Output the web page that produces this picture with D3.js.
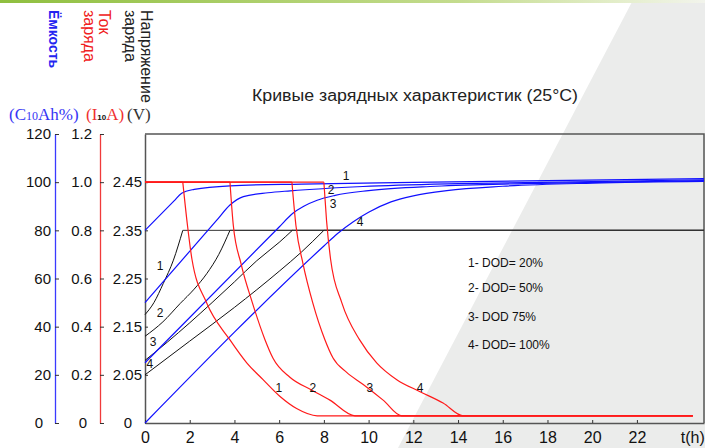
<!DOCTYPE html>
<html>
<head>
<meta charset="utf-8">
<script src="https://cdn.jsdelivr.net/npm/d3@7"></script>
<style>
  html, body { margin: 0; padding: 0; background: #fff; }
  svg { display: block; font-family: "Liberation Sans", Arial, sans-serif; }
</style>
</head>
<body>
<div id="chart"></div>
<script>
// ---- data ----
const hourTicks = [0, 2, 4, 6, 8, 10, 12, 14, 16, 18, 20, 22];
const capacityTicks = [0, 20, 40, 60, 80, 100, 120];
const currentTicks = [0, 0.2, 0.4, 0.6, 0.8, 1.0, 1.2];
const voltageTicks = [1.95, 2.05, 2.15, 2.25, 2.35, 2.45]; // 1.95 is shown as "0" (broken axis)
const dodLegend = ['1- DOD= 20%', '2- DOD= 50%', '3- DOD 75%', '4- DOD= 100%'];

// charge current (I10 A) vs t(h), after the constant 1.0 phase
const current1 = [[1.69, 1.0], [1.9, 0.82], [2.1, 0.68], [2.75, 0.5], [3.8, 0.345], [4.55, 0.25], [5.28, 0.18], [6.04, 0.11], [6.78, 0.06], [7.7, 0.03], [24.5, 0.03]];
const current2 = [[3.8, 1.0], [3.95, 0.82], [4.3, 0.66], [4.8, 0.5], [5.37, 0.345], [5.72, 0.27], [6.48, 0.19], [7.45, 0.137], [8.27, 0.095], [9.39, 0.03], [24.5, 0.03]];
const current3 = [[6.57, 1.0], [6.75, 0.82], [7.07, 0.66], [7.5, 0.5], [8.05, 0.345], [8.41, 0.27], [9.02, 0.21], [9.76, 0.16], [10.65, 0.095], [11.48, 0.03], [24.5, 0.03]];
const current4 = [[8.0, 1.0], [8.12, 0.84], [8.3, 0.68], [8.8, 0.5], [9.6, 0.345], [10.36, 0.25], [11.26, 0.18], [12.3, 0.13], [13.33, 0.083], [14.22, 0.03], [24.5, 0.03]];

// charge voltage (V) vs t(h), rising part; then flat at 2.35
const voltage1 = [[0, 2.175], [0.4, 2.2], [0.82, 2.24], [1.27, 2.288], [1.69, 2.35]];
const voltage2 = [[0, 2.13], [0.8, 2.16], [1.57, 2.198], [2.2, 2.228], [2.76, 2.26], [3.3, 2.3], [3.8, 2.35]];
const voltage3 = [[0, 2.08], [1, 2.118], [2, 2.158], [3, 2.2], [4, 2.243], [5, 2.287], [6, 2.325], [6.59, 2.35]];
const voltage4 = [[0, 2.05], [2, 2.12], [4, 2.19], [6, 2.265], [7, 2.305], [8.0, 2.35]];

// capacity (C10 Ah %) vs t(h)
const capacity1 = [[0, 80], [1.3, 92.2], [1.64, 95.4], [2.2, 97.0], [3.8, 98.5], [7, 99.2], [12, 99.9], [18, 100.6], [25, 101.5]];
const capacity2 = [[0, 50], [3.2, 84.1], [3.8, 90.5], [4.4, 94], [5.5, 95.6], [6.5, 96.4], [9.75, 98.2], [14, 99.4], [20, 100.2], [25, 101]];
const capacity3 = [[0, 25], [6.0, 81.4], [6.6, 87], [7.1, 90], [7.7, 92.5], [8.5, 94.5], [10, 96.5], [13, 98.3], [17, 99.4], [25, 100.6]];
const capacity4 = [[0, 0], [8.0, 73.5], [8.6, 78.6], [9.3, 83.5], [10, 87.5], [11, 91.8], [12, 94.3], [13.5, 96.5], [16, 98.3], [20, 99.6], [25, 100.3]];

// curve number labels, in data units [t, value]
const currentLabels = [[5.99, 0.13], [7.51, 0.13], [10.06, 0.13], [12.3, 0.13]];
const voltageLabels = [[0.67, 2.267], [0.67, 2.17], [0.36, 2.11], [0.22, 2.064]];
const capacityLabels = [[8.99, 100.9], [8.32, 95.1], [8.41, 89.3], [9.62, 81.8]];

// ---- layout ----
const width = 705, height = 448;
const plot = { left: 145, right: 704, top: 134, bottom: 423 };

const svg = d3.select('#chart').append('svg')
  .attr('width', width)
  .attr('height', height);

// background decoration
const defs = svg.append('defs');
const grad = defs.append('linearGradient').attr('id', 'topbar');
grad.append('stop').attr('offset', '0%').attr('stop-color', '#8fbf3f');
grad.append('stop').attr('offset', '65%').attr('stop-color', '#c4dc8e');
grad.append('stop').attr('offset', '88%').attr('stop-color', '#e4eecb');
grad.append('stop').attr('offset', '100%').attr('stop-color', '#f2f4ec');

svg.append('polygon')
  .attr('points', '633,0 705,0 705,448 398,448')
  .attr('fill', '#ebeceb');
svg.append('rect')
  .attr('x', 0).attr('y', 0).attr('width', width).attr('height', 3)
  .attr('fill', 'url(#topbar)');

// scales
const x = d3.scaleLinear().domain([0, 25]).range([plot.left, plot.right]);
const yCap = d3.scaleLinear().domain([0, 120]).range([plot.bottom, plot.top]);
const yCur = d3.scaleLinear().domain([0, 1.2]).range([plot.bottom, plot.top]);
const yVolt = d3.scaleLinear().domain([1.95, 2.55]).range([plot.bottom, plot.top]);

// title (the original is stretched horizontally)
svg.append('text')
  .attr('x', 252).attr('y', 101)
  .attr('font-size', 16)
  .attr('textLength', 326)
  .attr('lengthAdjust', 'spacingAndGlyphs')
  .attr('fill', '#222')
  .text('Кривые зарядных характеристик (25°C)');

// rotated axis headers
const headers = [
  { text: 'Ёмкость', x: 49, color: '#2323f0', weight: 'bold', size: 14 },
  { text: 'заряда', x: 83.5, color: '#f02020', weight: 'normal', size: 16 },
  { text: 'Ток', x: 98.5, color: '#f02020', weight: 'normal', size: 16 },
  { text: 'заряда', x: 125, color: '#222', weight: 'normal', size: 16 },
  { text: 'Напряжение', x: 141, color: '#222', weight: 'normal', size: 16 }
];
svg.append('g').selectAll('text')
  .data(headers)
  .join('text')
  .attr('transform', d => `translate(${d.x},10) rotate(90)`)
  .attr('font-size', d => d.size)
  .attr('font-weight', d => d.weight)
  .attr('fill', d => d.color)
  .text(d => d.text);

// unit labels
const serif = '"Liberation Serif", "Times New Roman", serif';
const capUnit = svg.append('text').attr('x', 9).attr('y', 120)
  .attr('font-family', serif).attr('font-size', 17).attr('fill', '#3535f5');
capUnit.append('tspan').text('(C');
capUnit.append('tspan').attr('font-size', 12).text('10');
capUnit.append('tspan').text('Ah%)');

const curUnit = svg.append('text').attr('x', 86).attr('y', 120)
  .attr('font-family', serif).attr('font-size', 17).attr('fill', '#f03030');
curUnit.append('tspan').text('(I');
curUnit.append('tspan').attr('font-size', 8).attr('font-weight', 'bold')
  .attr('font-family', '"Liberation Sans", Arial, sans-serif').attr('fill', '#111').text('10');
curUnit.append('tspan').text('A)');

svg.append('text').attr('x', 127).attr('y', 120)
  .attr('font-family', serif).attr('font-size', 17).attr('fill', '#333')
  .text('(V)');

// ---- axes ----
function styleAxis(g, domainColor, fontSize) {
  g.select('.domain').attr('stroke', domainColor).attr('stroke-width', 1.3);
  g.selectAll('.tick line').attr('stroke', '#333');
  g.selectAll('.tick text')
    .attr('font-size', fontSize)
    .attr('fill', '#111')
    .attr('font-family', '"Liberation Sans", Arial, sans-serif');
}

const capAxis = svg.append('g')
  .attr('transform', 'translate(55,0)')
  .call(d3.axisLeft(yCap).tickValues(capacityTicks).tickSizeInner(-4).tickSizeOuter(0).tickPadding(4))
  .call(g => styleAxis(g, '#3a3aff', 15));
capAxis.selectAll('.tick text').filter(d => d === 0).attr('dx', -8);

const curAxis = svg.append('g')
  .attr('transform', 'translate(100,0)')
  .call(d3.axisLeft(yCur).tickValues(currentTicks).tickSizeInner(-4).tickSizeOuter(0).tickPadding(8)
    .tickFormat(d => d === 0 ? '0' : d3.format('.1f')(d)))
  .call(g => styleAxis(g, '#f03a3a', 15));
curAxis.selectAll('.tick text').filter(d => d === 0).attr('dx', -5);

const voltAxis = svg.append('g')
  .attr('transform', `translate(${plot.left},0)`)
  .call(d3.axisLeft(yVolt).tickValues(voltageTicks).tickSizeInner(-3).tickSizeOuter(0).tickPadding(3)
    .tickFormat(d => d < 2 ? '0' : d3.format('.2f')(d)))
  .call(g => styleAxis(g, '#555', 15));
voltAxis.select('.domain').attr('stroke-width', 1.5);
voltAxis.selectAll('.tick text').filter(d => d < 2).attr('dx', -10);

const xAxis = svg.append('g')
  .attr('transform', `translate(0,${plot.bottom})`)
  .call(d3.axisBottom(x).tickValues(hourTicks).tickSizeInner(-3).tickSizeOuter(0).tickPadding(9))
  .call(g => styleAxis(g, '#555', 16));
xAxis.select('.domain').attr('stroke-width', 1.5);

svg.append('text')
  .attr('x', x(24.5)).attr('y', plot.bottom + 9)
  .attr('dy', '0.71em')
  .attr('text-anchor', 'middle')
  .attr('font-size', 16)
  .attr('fill', '#111')
  .text('t(h)');

// frame top / right
svg.append('path')
  .attr('d', `M${plot.left},${plot.top}H${plot.right}V${plot.bottom}`)
  .attr('fill', 'none')
  .attr('stroke', '#555')
  .attr('stroke-width', 1.5);

// ---- curves ----
const curves = svg.append('g').attr('fill', 'none');
const smooth = d3.curveMonotoneX;

// voltage (black)
const voltLine = d3.line().x(d => x(d[0])).y(d => yVolt(d[1])).curve(smooth);
[voltage1, voltage2, voltage3, voltage4].forEach(v => {
  curves.append('path').attr('d', voltLine(v)).attr('stroke', '#111').attr('stroke-width', 1);
  const last = v[v.length - 1];
  curves.append('path')
    .attr('d', d3.line().x(d => x(d[0])).y(d => yVolt(d[1]))([last, [25, last[1]]]))
    .attr('stroke', '#333').attr('stroke-width', 1);
});

// capacity (blue)
const capLine = d3.line().x(d => x(d[0])).y(d => yCap(d[1])).curve(smooth);
[capacity1, capacity2, capacity3, capacity4].forEach(c => {
  curves.append('path').attr('d', capLine(c)).attr('stroke', '#1010ff').attr('stroke-width', 1.2);
});

// current (red)
const curLine = d3.line().x(d => x(d[0])).y(d => yCur(d[1])).curve(smooth);
[current1, current2, current3, current4].forEach(c => {
  const first = c[0];
  curves.append('path')
    .attr('d', d3.line().x(d => x(d[0])).y(d => yCur(d[1]))([[0, first[1]], first]))
    .attr('stroke', '#ff1a1a').attr('stroke-width', 1.2);
  curves.append('path').attr('d', curLine(c)).attr('stroke', '#ff1a1a').attr('stroke-width', 1.2);
});

// curve numbers
function numberLabels(data, yScale) {
  svg.append('g').selectAll('text')
    .data(data)
    .join('text')
    .attr('x', d => x(d[0]))
    .attr('y', d => yScale(d[1]))
    .attr('text-anchor', 'middle')
    .attr('font-size', 12)
    .attr('fill', '#111')
    .text((d, i) => i + 1);
}
numberLabels(currentLabels, yCur);
numberLabels(voltageLabels, yVolt);
numberLabels(capacityLabels, yCap);

// DOD legend
const legendY = [267, 292, 321, 349];
svg.append('g').selectAll('text')
  .data(dodLegend)
  .join('text')
  .attr('x', 468)
  .attr('y', (d, i) => legendY[i])
  .attr('font-size', 12)
  .attr('fill', '#111')
  .text(d => d);
</script>
</body>
</html>
